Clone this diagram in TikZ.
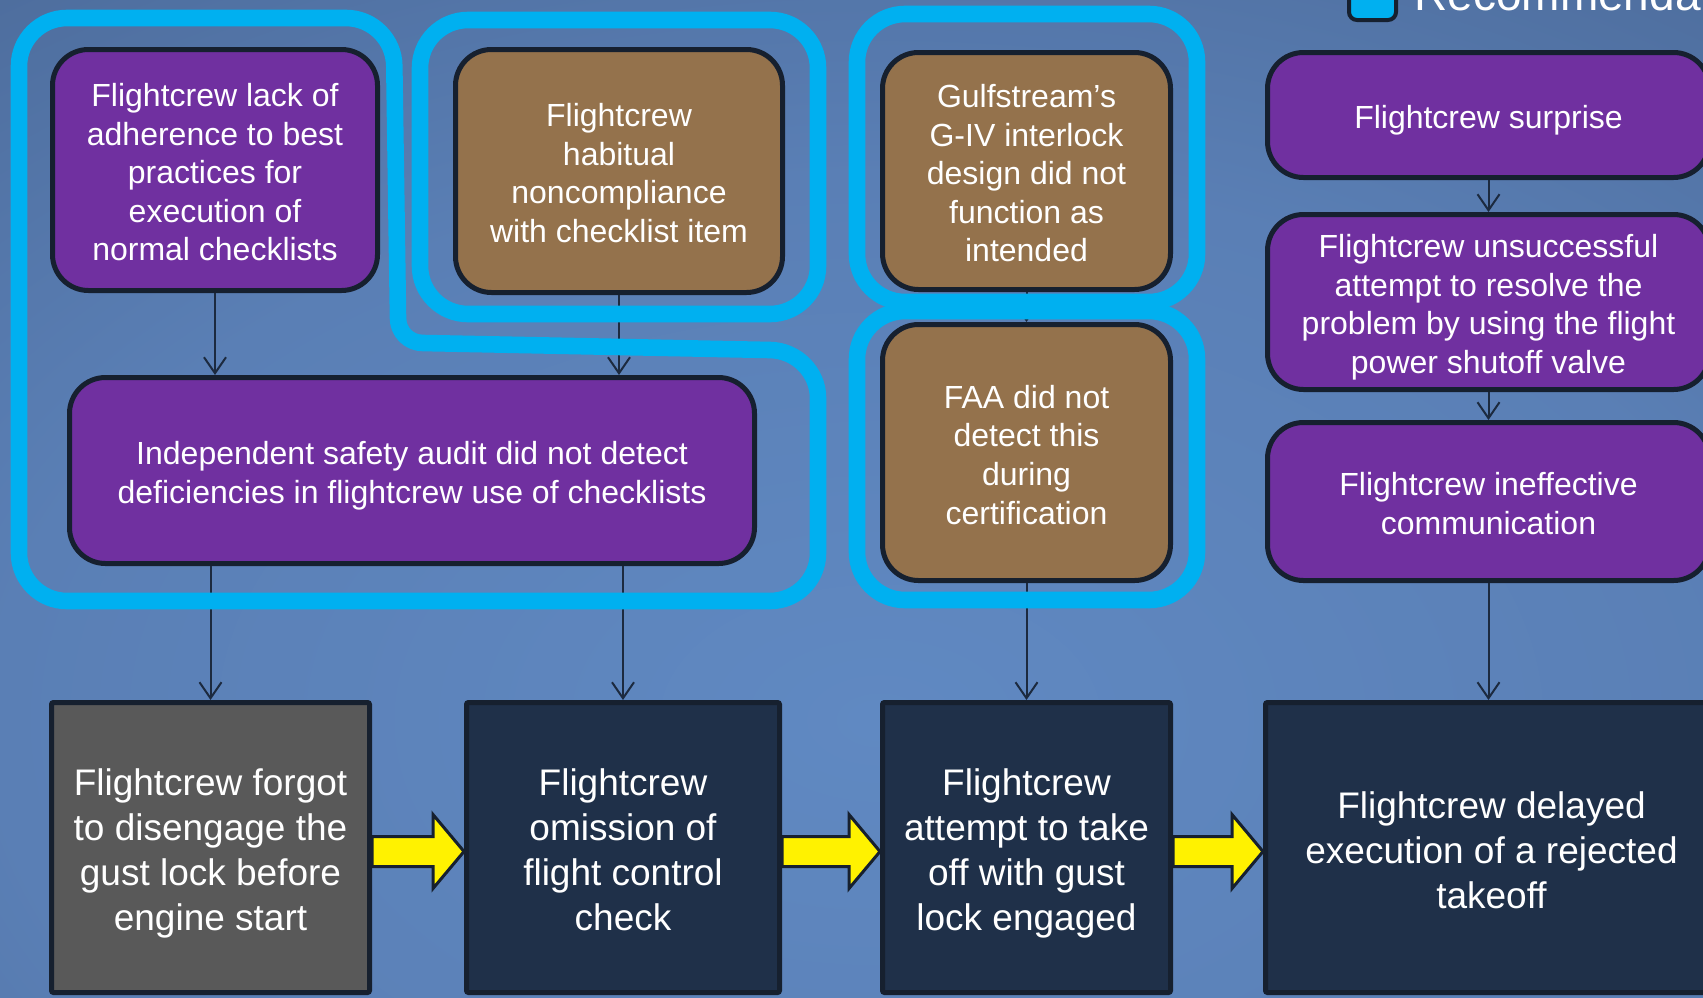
\documentclass[tikz,border=0pt]{standalone}
\usepackage{fontspec}
\setmainfont{Liberation Sans}
\usetikzlibrary{arrows.meta,calc}

% palette
\definecolor{bgA}{HTML}{6089C2}
\definecolor{bgB}{HTML}{5A7FB5}
\definecolor{bgC}{HTML}{4A6896}
\definecolor{bgD}{HTML}{3F5A86}
\definecolor{bgE}{HTML}{34486B}
\definecolor{bgF}{HTML}{2C3B58}
\definecolor{cpurple}{HTML}{7030A0}
\definecolor{cbrown}{HTML}{94724C}
\definecolor{cnavy}{HTML}{1F3049}
\definecolor{cgray}{HTML}{595959}
\definecolor{edge}{HTML}{16202F}
\definecolor{linkc}{HTML}{1C2A3F}
\definecolor{hlblue}{HTML}{00B0F0}

% soft glow for the slide background
\pgfdeclareradialshading{bgglow}{\pgfpointorigin}{%
  color(0bp)=(bgA); color(13.6bp)=(bgB); color(25.6bp)=(bgC);
  color(29.6bp)=(bgD); color(36bp)=(bgE); color(48bp)=(bgF); color(50bp)=(bgF)}

% uniform line boxes so text is centred by its lines, not its ink
\newcommand{\ls}{\rule[-0.25em]{0pt}{1.35em}}

\begin{document}
\begin{tikzpicture}[x=0.5pt,y=-0.5pt,
  card/.style={rounded corners=18pt, draw=edge, line width=2.5pt, text=white,
    align=center, inner sep=0pt, font=\fontsize{16pt}{19.3pt}\selectfont,
    execute at end node=\ls},
  cause/.style={card, fill=cpurple},
  factor/.style={card, fill=cbrown},
  event/.style={draw=edge, line width=2.5pt, rounded corners=1pt, text=white,
    align=center, inner sep=0pt, fill=cnavy,
    font=\fontsize{18.5pt}{22.5pt}\selectfont, execute at end node=\ls},
  link/.style={draw=linkc, line width=1pt, -{Straight Barb[length=8pt,width=11pt]}},
  hl/.style={draw=hlblue, line width=8.3pt, line join=round},
  yarrow/.style={fill=yellow, draw=edge, line width=1.5pt, line join=miter}
]
\useasboundingbox (0,0) rectangle (1703,997);
\clip (0,0) rectangle (1703,997);
\shade[shading=bgglow] (-745,-280) rectangle (2505,1720);

% legend
\node[draw=edge, line width=2pt, fill=hlblue, rounded corners=4pt,
      minimum width=23.5pt, minimum height=25pt, inner sep=0pt]
      (legendkey) at (1372.5,-5) {};
\node[anchor=base west, inner sep=0pt, text=white,
      font=\fontsize{23pt}{27pt}\selectfont]
      (legendtext) at (1414,10) {Recommendations};

% contributing factors
\node[cause, minimum width=162.5pt, minimum height=120.5pt] (a) at (215,170)
  {\ls Flightcrew lack of\\adherence to best\\practices for\\execution of\\normal checklists};
\node[factor, minimum width=163.5pt, minimum height=121.5pt] (b) at (619,171)
  {\ls Flightcrew\\habitual\\noncompliance\\with checklist item};
\node[factor, minimum width=144pt, minimum height=118.5pt] (c) at (1026.5,171)
  {\ls Gulfstream’s\\G-IV interlock\\design did not\\function as\\intended};
\node[factor, minimum width=144pt, minimum height=128pt] (d) at (1026.5,452.5)
  {\ls FAA did not\\detect this\\during\\certification};
\node[cause, minimum width=342.5pt, minimum height=93pt] (e) at (412,470.5)
  {\ls Independent safety audit did not detect\\deficiencies in flightcrew use of checklists};
\node[cause, minimum width=221pt, minimum height=62.5pt] (f) at (1488.5,115)
  {\ls Flightcrew surprise};
\node[cause, minimum width=221pt, minimum height=87.5pt] (g) at (1488.5,302)
  {\ls Flightcrew unsuccessful\\attempt to resolve the\\problem by using the flight\\power shutoff valve};
\node[cause, minimum width=221pt, minimum height=79pt] (h) at (1488.5,501.5)
  {\ls Flightcrew ineffective\\communication};

% event sequence
\node[event, fill=cgray, minimum width=159pt, minimum height=145pt] (k1) at (210.5,847.5)
  {\ls Flightcrew forgot\\to disengage the\\gust lock before\\engine start};
\node[event, minimum width=156.5pt, minimum height=145pt] (k2) at (623,847.5)
  {\ls Flightcrew\\omission of\\flight control\\check};
\node[event, minimum width=144pt, minimum height=145pt] (k3) at (1026.5,847.5)
  {\ls Flightcrew\\attempt to take\\off with gust\\lock engaged};
\node[event, minimum width=226pt, minimum height=145pt] (k4) at (1491.5,847.5)
  {\ls Flightcrew delayed\\execution of a rejected\\takeoff};

% links
\draw[link] (a.south) -- (a.south |- e.north);
\draw[link] (b.south) -- (b.south |- e.north);
\draw[link] (c.south) -- (d.north);
\draw[link] (f.south) -- (g.north);
\draw[link] (g.south) -- (h.north);
\draw[link] (h.south) -- (h.south |- k4.north);
\draw[link] (k1.north |- e.south) -- (k1.north);
\draw[link] (k2.north |- e.south) -- (k2.north);
\draw[link] (d.south) -- (k3.north);

% recommendation groupings
\draw[hl] (19,300) -- (19,66) .. controls (19,39.5) and (40.5,18) .. (67,18)
  -- (346,18) .. controls (372.5,18) and (394,39.5) .. (394.3,66)
  -- (398,318) .. controls (398,332) and (409,343) .. (423,343)
  -- (770,350) .. controls (796.5,350.5) and (818,372) .. (818,398)
  -- (818,553) .. controls (818,579.5) and (796.5,601) .. (770,601)
  -- (67,601) .. controls (40.5,601) and (19,579.5) .. (19,553)
  -- cycle;
\draw[hl, rounded corners=24pt] (420,20) rectangle (818,314);
\draw[hl, rounded corners=24pt] (857,14) rectangle (1197,302);
\draw[hl, rounded corners=24pt] (857,311) rectangle (1197,600);

% sequence arrows
\foreach \s/\t in {k1/k2, k2/k3, k3/k4}{
  \path ($(\s.east)+(0,4)$) coordinate (tail) ($(\t.west)+(0,4)$) coordinate (tip);
  \draw[yarrow] ($(tail)+(0,-15)$) -- ($(tip)+(-31,-15)$) -- ($(tip)+(-31,-37)$)
    -- (tip) -- ($(tip)+(-31,37)$) -- ($(tip)+(-31,15)$) -- ($(tail)+(0,15)$) -- cycle;
}
\end{tikzpicture}
\end{document}
